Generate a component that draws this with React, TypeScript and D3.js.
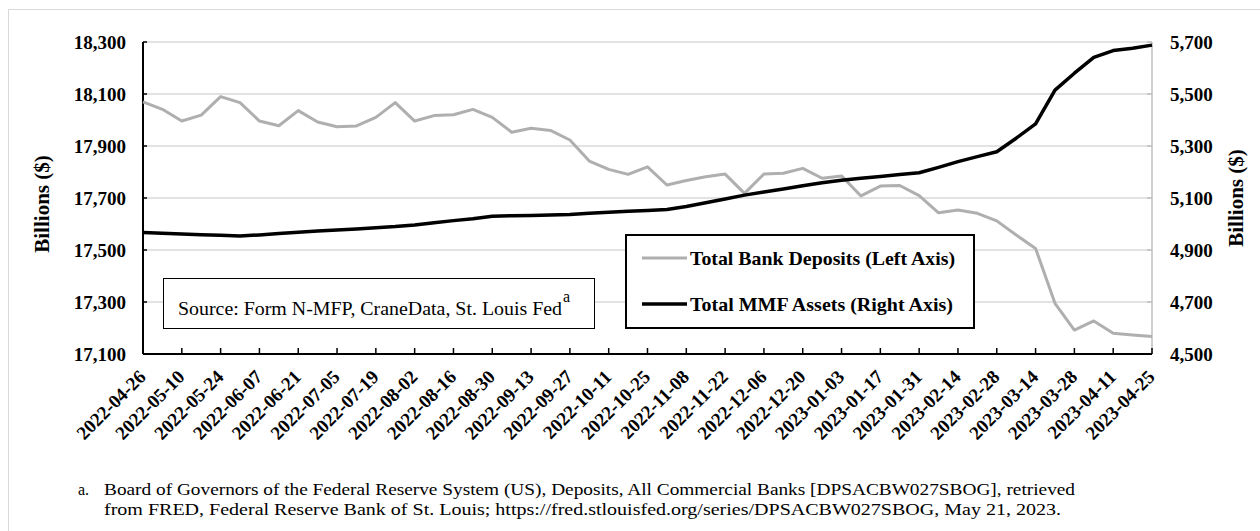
import React from "react";
import * as d3 from "d3";

const dates = [
  "2022-04-26", "2022-05-03", "2022-05-10", "2022-05-17", "2022-05-24", "2022-05-31",
  "2022-06-07", "2022-06-14", "2022-06-21", "2022-06-28", "2022-07-05", "2022-07-12",
  "2022-07-19", "2022-07-26", "2022-08-02", "2022-08-09", "2022-08-16", "2022-08-23",
  "2022-08-30", "2022-09-06", "2022-09-13", "2022-09-20", "2022-09-27", "2022-10-04",
  "2022-10-11", "2022-10-18", "2022-10-25", "2022-11-01", "2022-11-08", "2022-11-15",
  "2022-11-22", "2022-11-29", "2022-12-06", "2022-12-13", "2022-12-20", "2022-12-27",
  "2023-01-03", "2023-01-10", "2023-01-17", "2023-01-24", "2023-01-31", "2023-02-07",
  "2023-02-14", "2023-02-21", "2023-02-28", "2023-03-07", "2023-03-14", "2023-03-21",
  "2023-03-28", "2023-04-04", "2023-04-11", "2023-04-18", "2023-04-25",
];

// Total bank deposits, billions (left axis)
const deposits = [
  18070, 18041, 17996, 18019, 18090, 18067, 17996, 17978, 18036, 17992, 17974, 17977,
  18010, 18067, 17996, 18017, 18020, 18041, 18010, 17953, 17968, 17960, 17923, 17842,
  17810, 17791, 17820, 17750, 17767, 17782, 17792, 17718, 17792, 17795, 17814, 17776,
  17785, 17708, 17746, 17748, 17709, 17643, 17654, 17641, 17612, 17558, 17506, 17295,
  17192, 17227, 17180, 17173, 17167,
];

// Total MMF assets, billions (right axis)
const mmfAssets = [
  4967, 4964, 4962, 4959, 4957, 4954, 4958, 4963, 4968, 4973, 4977, 4981,
  4986, 4990, 4996, 5005, 5013, 5020, 5030, 5032, 5033, 5035, 5037, 5041,
  5045, 5049, 5052, 5056, 5067, 5082, 5096, 5111, 5123, 5135, 5147, 5159,
  5168, 5176, 5183, 5190, 5197, 5218, 5240, 5259, 5278, 5330, 5385, 5515,
  5580, 5641, 5667, 5676, 5688,
];

const leftTicks = [17100, 17300, 17500, 17700, 17900, 18100, 18300];
const rightTicks = [4500, 4700, 4900, 5100, 5300, 5500, 5700];

const seriesNames = ["Total Bank Deposits (Left Axis)", "Total MMF Assets (Right Axis)"];
const sourceText = "Source: Form N-MFP, CraneData, St. Louis Fed";
const footnote = [
  "Board of Governors of the Federal Reserve System (US), Deposits, All Commercial Banks [DPSACBW027SBOG], retrieved",
  "from FRED, Federal Reserve Bank of St. Louis; https://fred.stlouisfed.org/series/DPSACBW027SBOG, May 21, 2023.",
];

const W = 1260;
const H = 531;
const plot = { left: 143, right: 1152, top: 42, bottom: 354 };
const font = "'Liberation Serif', 'Times New Roman', serif";
const grayLine = "#afafaf";
const gridColor = "#d9d9d9";

export default function App() {
  const x = d3.scalePoint<string>().domain(dates).range([plot.left, plot.right]);
  const yL = d3.scaleLinear().domain([17100, 18300]).range([plot.bottom, plot.top]);
  const yR = d3.scaleLinear().domain([4500, 5700]).range([plot.bottom, plot.top]);
  const fmt = d3.format(",");

  const depLine = d3
    .line<number>()
    .x((_, i) => x(dates[i]) ?? 0)
    .y((d) => yL(d))(deposits);
  const mmfLine = d3
    .line<number>()
    .x((_, i) => x(dates[i]) ?? 0)
    .y((d) => yR(d))(mmfAssets);

  // every other week gets a label
  const labelDates = dates.filter((_, i) => i % 2 === 0);

  return (
    <svg
      width={W}
      height={H}
      style={{ position: "absolute", left: 0, top: 0, background: "#fff" }}
      fontFamily={font}
    >
      {/* outer frame */}
      <line x1={8.5} y1={9.5} x2={W} y2={9.5} stroke={gridColor} />
      <line x1={8.5} y1={9.5} x2={8.5} y2={H} stroke={gridColor} />

      {/* gridlines */}
      {leftTicks.map((t) => (
        <line
          key={t}
          x1={plot.left}
          x2={plot.right}
          y1={yL(t)}
          y2={yL(t)}
          stroke={gridColor}
          strokeWidth={1.5}
        />
      ))}

      {/* left axis */}
      <line x1={plot.left} x2={plot.left} y1={plot.top} y2={plot.bottom} stroke="#000" strokeWidth={2} />
      {leftTicks.map((t) => (
        <g key={t}>
          <line x1={plot.left} x2={plot.left + 4} y1={yL(t)} y2={yL(t)} stroke="#000" strokeWidth={1.5} />
          <text
            x={126}
            y={yL(t)}
            dy="0.35em"
            textAnchor="end"
            fontSize={19}
            fontWeight="bold"
            fill="#000"
          >
            {fmt(t)}
          </text>
        </g>
      ))}

      {/* right axis */}
      <line x1={plot.right} x2={plot.right} y1={plot.top} y2={plot.bottom} stroke="#bfbfbf" strokeWidth={1.5} />
      {rightTicks.map((t) => (
        <g key={t}>
          <line x1={plot.right - 5} x2={plot.right} y1={yR(t)} y2={yR(t)} stroke="#bfbfbf" strokeWidth={1.5} />
          <text x={1170} y={yR(t)} dy="0.35em" fontSize={19} fontWeight="bold" fill="#000">
            {fmt(t)}
          </text>
        </g>
      ))}

      {/* axis titles */}
      <text
        transform={`translate(49,${(plot.top + plot.bottom) / 2 + 6}) rotate(-90)`}
        textAnchor="middle"
        fontSize={21}
        fontWeight="bold"
      >
        Billions ($)
      </text>
      <text
        transform={`translate(1243,${(plot.top + plot.bottom) / 2}) rotate(-90)`}
        textAnchor="middle"
        fontSize={21}
        fontWeight="bold"
      >
        Billions ($)
      </text>

      {/* source box */}
      <rect x={163.5} y={278.5} width={431} height={50} fill="#fff" stroke="#000" strokeWidth={1} />
      <text x={178} y={315} fontSize={18} textLength={384} lengthAdjust="spacingAndGlyphs">
        {sourceText}
      </text>
      <text x={563} y={302} fontSize={16}>
        a
      </text>

      {/* series */}
      <path d={depLine ?? ""} fill="none" stroke={grayLine} strokeWidth={3} strokeLinejoin="round" />
      <path d={mmfLine ?? ""} fill="none" stroke="#000" strokeWidth={3.5} strokeLinejoin="round" />

      {/* x axis */}
      <line x1={plot.left} x2={plot.right} y1={plot.bottom} y2={plot.bottom} stroke="#000" strokeWidth={2} />
      {labelDates.map((d) => {
        const px = x(d) ?? 0;
        return (
          <g key={d}>
            <line x1={px} x2={px} y1={plot.bottom - 6} y2={plot.bottom} stroke="#000" strokeWidth={1.5} />
            <text
              transform={`translate(${px + 4},378) rotate(-45)`}
              textAnchor="end"
              fontSize={19}
              fontWeight="bold"
            >
              {d}
            </text>
          </g>
        );
      })}

      {/* legend */}
      <rect x={626} y={235} width={348} height={93} fill="#fff" stroke="#000" strokeWidth={2} />
      {seriesNames.map((name, i) => {
        const ly = 258 + i * 46;
        return (
          <g key={name}>
            <line
              x1={642}
              x2={687}
              y1={ly}
              y2={ly}
              stroke={i === 0 ? grayLine : "#000"}
              strokeWidth={i === 0 ? 3 : 3.5}
            />
            <text
              x={690}
              y={ly + 7}
              fontSize={19}
              fontWeight="bold"
              textLength={i === 0 ? 265 : 263}
              lengthAdjust="spacingAndGlyphs"
            >
              {name}
            </text>
          </g>
        );
      })}

      {/* footnote */}
      <text x={78} y={495} fontSize={16}>
        a.
      </text>
      {footnote.map((line, i) => (
        <text
          key={i}
          x={104}
          y={495 + i * 20}
          fontSize={16}
          textLength={i === 0 ? 971 : 957}
          lengthAdjust="spacingAndGlyphs"
        >
          {line}
        </text>
      ))}
    </svg>
  );
}
